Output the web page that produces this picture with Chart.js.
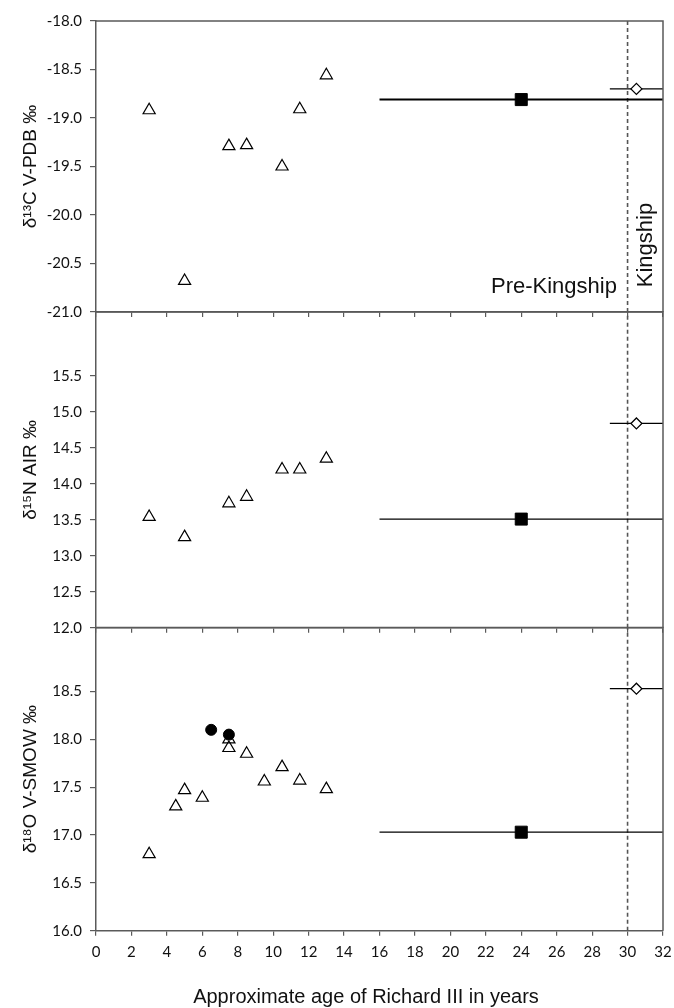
<!DOCTYPE html>
<html>
<head>
<meta charset="utf-8">
<script src="https://cdn.jsdelivr.net/npm/chart.js@4.4.1/dist/chart.umd.min.js"></script>
<style>
  html, body { margin: 0; padding: 0; background: #fff; }
  #wrap { position: relative; width: 674px; height: 1008px; }
  canvas { position: absolute; left: 0; top: 0; }
</style>
</head>
<body>
<div id="wrap">
  <canvas id="panelC" width="674" height="1008"></canvas>
  <canvas id="panelN" width="674" height="1008"></canvas>
  <canvas id="panelO" width="674" height="1008"></canvas>
</div>
<script>
// tooth samples (open triangles)
const toothAge = [3, 5, 7.5, 8.5, 10.5, 11.5, 13];
const carbon = [-18.92, -20.68, -19.29, -19.28, -19.50, -18.91, -18.56];
const nitrogen = [13.54, 13.26, 13.73, 13.82, 14.20, 14.20, 14.35];
const oxyAge = [3, 4.5, 5, 6, 7.5, 7.5, 8.5, 9.5, 10.5, 11.5, 13];
const oxygen = [16.80, 17.30, 17.47, 17.39, 18.00, 17.91, 17.85, 17.56, 17.71, 17.57, 17.48];
// filled circles (oxygen only)
const dentineAge = [6.5, 7.5];
const dentineOxy = [18.10, 18.05];
// femur (filled square) and rib (open diamond), order C, N, O
const femurAge = 24;
const femurSpan = [16, 32];
const femurVals = [-18.81, 13.51, 17.03];
const ribAge = 30.5;
const ribSpan = [29, 32];
const ribVals = [-18.70, 14.84, 18.53];
const kingshipAge = 30;
// ticks
const ageTicks = [0, 2, 4, 6, 8, 10, 12, 14, 16, 18, 20, 22, 24, 26, 28, 30, 32];
const cTicks = [-21.0, -20.5, -20.0, -19.5, -19.0, -18.5, -18.0];
const nTicks = [12.0, 12.5, 13.0, 13.5, 14.0, 14.5, 15.0, 15.5];
const oTicks = [16.0, 16.5, 17.0, 17.5, 18.0, 18.5];

const AXIS = '#5a5a5a';
const TXT = '#111';

const framePlugin = {
  id: 'frame',
  afterDraw(chart) {
    const { ctx, chartArea: a } = chart;
    ctx.save();
    ctx.strokeStyle = AXIS;
    ctx.lineWidth = 1.5;
    ctx.beginPath();
    ctx.moveTo(a.left, a.top);
    ctx.lineTo(a.right, a.top);
    ctx.lineTo(a.right, a.bottom);
    ctx.stroke();
    ctx.restore();
  }
};

const phasePlugin = {
  id: 'phases',
  afterDraw(chart) {
    const { ctx, scales: { x, y } } = chart;
    ctx.save();
    ctx.fillStyle = TXT;
    ctx.font = '22px "Liberation Sans", Arial, sans-serif';
    ctx.textAlign = 'right';
    ctx.textBaseline = 'alphabetic';
    ctx.fillText('Pre-Kingship', x.getPixelForValue(29.4), y.getPixelForValue(-20.80));
    ctx.translate(x.getPixelForValue(31.4), y.getPixelForValue(-20.31));
    ctx.rotate(-Math.PI / 2);
    ctx.textAlign = 'center';
    ctx.fillText('Kingship', 0, 0);
    ctx.restore();
  }
};

const xTitlePlugin = {
  id: 'xTitle',
  afterDraw(chart) {
    const { ctx } = chart;
    ctx.save();
    ctx.fillStyle = TXT;
    ctx.font = '20px "Liberation Sans", Arial, sans-serif';
    ctx.textAlign = 'center';
    ctx.textBaseline = 'middle';
    ctx.fillText('Approximate age of Richard III in years', 366, 997);
    ctx.restore();
  }
};

function pts(xs, ys) {
  return xs.map((v, i) => ({ x: v, y: ys[i] }));
}

function makePanel(id, idx, top, bottom, yMin, yMax, yTicks, title, extra, showX) {
  const lw = idx === 0 ? 2 : 1.3;
  const datasets = [
    ...extra,
    {
      data: [{ x: femurAge, y: femurVals[idx] }],
      pointStyle: 'rect', pointRadius: 8.5,
      backgroundColor: '#000', borderColor: '#000', borderWidth: 1, order: 0
    },
    {
      data: [{ x: ribAge, y: ribVals[idx] }],
      pointStyle: 'rectRot', pointRadius: 5.5,
      backgroundColor: '#fff', borderColor: '#000', borderWidth: 1.2, order: 0
    },
    {
      data: femurSpan.map(v => ({ x: v, y: femurVals[idx] })),
      showLine: true, pointRadius: 0, borderColor: '#000', borderWidth: lw, order: 2
    },
    {
      data: ribSpan.map(v => ({ x: v, y: ribVals[idx] })),
      showLine: true, pointRadius: 0, borderColor: '#000', borderWidth: 1.2, order: 2
    },
    {
      data: [{ x: kingshipAge, y: yMin }, { x: kingshipAge, y: yMax }],
      showLine: true, pointRadius: 0, borderColor: '#555', borderWidth: 1.6,
      borderDash: [4, 3], order: 3
    }
  ];

  const plugins = [framePlugin];
  if (idx === 0) plugins.push(phasePlugin);
  if (showX) plugins.push(xTitlePlugin);

  return new Chart(document.getElementById(id), {
    type: 'scatter',
    data: { datasets },
    plugins,
    options: {
      responsive: false,
      animation: false,
      events: [],
      layout: { padding: { top: top, bottom: 1008 - bottom - 40, left: 0, right: 11 } },
      plugins: { legend: { display: false }, tooltip: { enabled: false } },
      scales: {
        x: {
          type: 'linear', min: 0, max: 32,
          afterFit: s => { s.height = 40; s.paddingLeft = 0; s.paddingRight = 0; },
          afterBuildTicks: s => { s.ticks = ageTicks.map(v => ({ value: v })); },
          grid: { drawOnChartArea: false, drawTicks: true, tickLength: 5, color: AXIS, lineWidth: 1.2 },
          border: { display: true, color: AXIS, width: 1.5 },
          ticks: {
            display: showX, padding: 7, color: TXT,
            font: { family: 'Lato', size: 15 }, maxRotation: 0, autoSkip: false
          }
        },
        y: {
          type: 'linear', min: yMin, max: yMax,
          afterFit: s => { s.width = 96; s.paddingTop = 0; s.paddingBottom = 0; },
          afterBuildTicks: s => { s.ticks = yTicks.map(v => ({ value: v })); },
          grid: { drawOnChartArea: false, drawTicks: true, tickLength: 6, color: AXIS, lineWidth: 1.2 },
          border: { display: true, color: AXIS, width: 1.5 },
          ticks: {
            padding: 8, color: TXT, font: { family: 'Lato', size: 15 },
            callback: v => v.toFixed(1)
          },
          title: {
            display: true, text: title, color: TXT,
            font: { family: 'Liberation Sans', size: 19 },
            padding: { top: 19, bottom: 0 }
          }
        }
      }
    }
  });
}

const triStyle = {
  pointStyle: 'triangle', pointRadius: 7,
  backgroundColor: 'rgba(255,255,255,0)', borderColor: '#000', borderWidth: 1.2, order: 1
};

makePanel('panelC', 0, 21, 312, -21, -18, cTicks, 'δ¹³C V-PDB ‰',
  [{ data: pts(toothAge, carbon), ...triStyle }], false);

makePanel('panelN', 1, 312, 627.7, 12, 16.39, nTicks, 'δ¹⁵N AIR ‰',
  [{ data: pts(toothAge, nitrogen), ...triStyle }], false);

makePanel('panelO', 2, 627.5, 930.7, 16, 19.17, oTicks, 'δ¹⁸O V-SMOW ‰',
  [
    { data: pts(dentineAge, dentineOxy), pointStyle: 'circle', pointRadius: 5.5,
      backgroundColor: '#000', borderColor: '#000', borderWidth: 1, order: 0 },
    { data: pts(oxyAge, oxygen), ...triStyle }
  ], true);
</script>
</body>
</html>
